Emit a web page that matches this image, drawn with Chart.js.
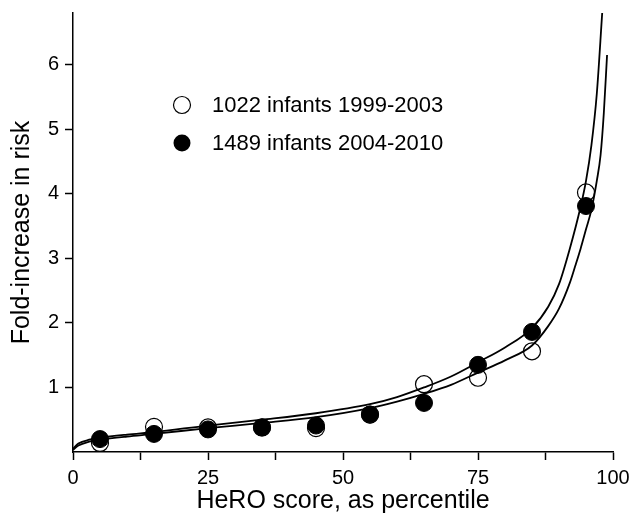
<!DOCTYPE html>
<html>
<head>
<meta charset="utf-8">
<script src="https://cdn.jsdelivr.net/npm/chart.js@4"></script>
<style>
  html, body { margin: 0; padding: 0; background: #fff; }
  #wrap { width: 632px; height: 520px; }
</style>
</head>
<body>
<div id="wrap"><canvas id="chart" width="632" height="520"></canvas></div>
<script>
// percentile bins (x) for the two cohorts
var percentiles = [5, 15, 25, 35, 45, 55, 65, 75, 85, 95];
var risk1999 = [0.14, 0.39, 0.38, 0.38, 0.37, 0.58, 1.05, 1.15, 1.56, 4.02];
var risk2004 = [0.20, 0.28, 0.35, 0.38, 0.41, 0.58, 0.76, 1.35, 1.86, 3.81];

// fitted curves
var fitUpperX = [0, 1, 3, 5, 10, 15, 25, 35, 45, 55, 60, 65, 70, 75, 80, 85, 88, 90, 92, 94, 95, 96, 97, 98];
var fitUpperY = [0.05, 0.13, 0.19, 0.22, 0.27, 0.31, 0.41, 0.50, 0.60, 0.74, 0.85, 1.00, 1.17, 1.39, 1.62, 1.92, 2.25, 2.60, 3.15, 3.80, 4.20, 4.75, 5.55, 6.80];
var fitLowerX = [0, 1, 3, 5, 10, 15, 25, 35, 45, 55, 60, 65, 70, 75, 80, 85, 88, 90, 92, 93, 94, 95, 96, 97, 97.7, 98.3, 98.9];
var fitLowerY = [0.03, 0.10, 0.16, 0.19, 0.24, 0.28, 0.37, 0.45, 0.54, 0.68, 0.78, 0.90, 1.04, 1.23, 1.42, 1.65, 1.95, 2.22, 2.62, 2.88, 3.15, 3.45, 3.75, 4.20, 4.60, 5.25, 6.15];

var legendLabels = ["1022 infants 1999-2003", "1489 infants 2004-2010"];

var FONT = "'Liberation Sans', Arial, sans-serif";

function toPoints(xs, ys) {
  return xs.map(function (x, i) { return { x: x, y: ys[i] }; });
}

// legend drawn inside the plot area
var legendPlugin = {
  id: "innerLegend",
  afterDraw: function (chart) {
    var ctx = chart.ctx;
    ctx.save();
    ctx.font = "22px " + FONT;
    ctx.fillStyle = "#000";
    ctx.strokeStyle = "#000";
    ctx.lineWidth = 1.2;
    ctx.textBaseline = "middle";
    var rows = [105, 143];
    for (var i = 0; i < legendLabels.length; i++) {
      ctx.beginPath();
      ctx.arc(182, rows[i], 8.5, 0, Math.PI * 2);
      if (i == 1) ctx.fill(); else ctx.stroke();
      ctx.fillText(legendLabels[i], 212, rows[i] + 1);
    }
    ctx.restore();
  }
};

var ctx = document.getElementById("chart").getContext("2d");
var chart = new Chart(ctx, {
  type: "scatter",
  data: {
    datasets: [
      {
        label: "fit 2004-2010",
        type: "line",
        data: toPoints(fitUpperX, fitUpperY),
        borderColor: "#000",
        borderWidth: 1.8,
        pointRadius: 0,
        fill: false,
        cubicInterpolationMode: "monotone",
        order: 0
      },
      {
        label: "fit 1999-2003",
        type: "line",
        data: toPoints(fitLowerX, fitLowerY),
        borderColor: "#000",
        borderWidth: 1.8,
        pointRadius: 0,
        fill: false,
        cubicInterpolationMode: "monotone",
        order: 0
      },
      {
        label: legendLabels[1],
        data: toPoints(percentiles, risk2004),
        backgroundColor: "#000",
        borderColor: "#000",
        borderWidth: 1,
        pointRadius: 8.5,
        order: 1
      },
      {
        label: legendLabels[0],
        data: toPoints(percentiles, risk1999),
        backgroundColor: "rgba(255,255,255,0)",
        borderColor: "#000",
        borderWidth: 1.2,
        pointRadius: 8.5,
        order: 2
      }
    ]
  },
  options: {
    responsive: false,
    animation: false,
    devicePixelRatio: 1,
    layout: { padding: { top: 13, right: 19, left: 0, bottom: 0 } },
    plugins: {
      legend: { display: false },
      tooltip: { enabled: false }
    },
    scales: {
      x: {
        type: "linear",
        min: 0,
        max: 100,
        afterFit: function (s) {
          s.height = 68;
          s.paddingLeft = 0;
          s.paddingRight = 0;
        },
        ticks: {
          stepSize: 12.5,
          autoSkip: false,
          maxRotation: 0,
          padding: 6,
          color: "#000",
          font: { family: FONT, size: 20 },
          callback: function (v) { return v % 25 === 0 ? v : ""; }
        },
        grid: {
          drawOnChartArea: false,
          tickLength: 8,
          tickWidth: 1.5,
          tickColor: "#000"
        },
        border: { color: "#000", width: 1.5 },
        title: {
          display: true,
          text: "HeRO score, as percentile",
          color: "#000",
          font: { family: FONT, size: 25 },
          padding: { top: 0, bottom: 4 }
        }
      },
      y: {
        type: "linear",
        min: 0,
        max: 6.8,
        afterFit: function (s) {
          s.width = 73;
          s.paddingTop = 0;
          s.paddingBottom = 0;
        },
        ticks: {
          stepSize: 1,
          includeBounds: false,
          padding: 6,
          color: "#000",
          font: { family: FONT, size: 20 },
          callback: function (v) { return v === 0 ? "" : v; }
        },
        grid: {
          drawOnChartArea: false,
          tickLength: 8,
          tickWidth: 1.5,
          tickColor: function (c) { return c.tick && c.tick.value === 0 ? "rgba(0,0,0,0)" : "#000"; }
        },
        border: { color: "#000", width: 1.5 },
        title: {
          display: true,
          text: "Fold-increase in risk",
          color: "#000",
          font: { family: FONT, size: 25 },
          padding: { top: 7, bottom: 0 }
        }
      }
    }
  },
  plugins: [legendPlugin]
});
</script>
</body>
</html>
